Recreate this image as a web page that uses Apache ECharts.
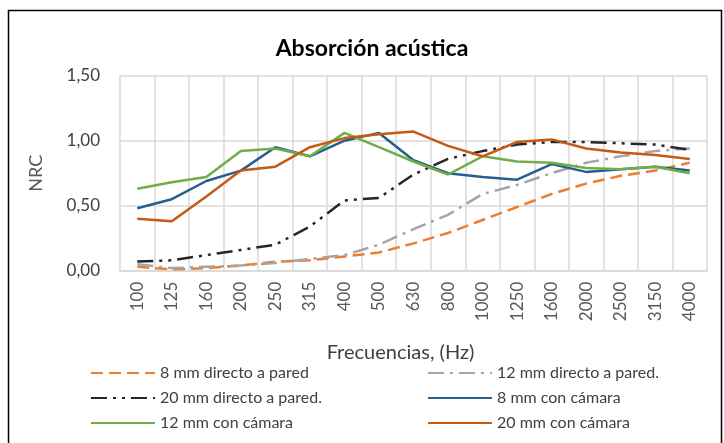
<!DOCTYPE html>
<html><head><meta charset="utf-8">
<script src="https://cdn.jsdelivr.net/npm/echarts@6/dist/echarts.min.js"></script>
<style>html,body{margin:0;padding:0;background:#fff}#c{width:724px;height:443px}</style>
</head><body><div id="c"></div>
<script>
const categories = ['100','125','160','200','250','315','400','500','630','800','1000','1250','1600','2000','2500','3150','4000'];
const yTicks = ['0,00','0,50','1,00','1,50'];
const s8directo  = [0.03,0.01,0.02,0.04,0.07,0.08,0.11,0.14,0.21,0.29,0.39,0.49,0.59,0.67,0.73,0.77,0.83];
const s12directo = [0.05,0.02,0.03,0.04,0.06,0.09,0.12,0.20,0.32,0.43,0.59,0.66,0.75,0.83,0.88,0.92,0.94];
const s20directo = [0.07,0.08,0.12,0.16,0.20,0.34,0.54,0.56,0.74,0.86,0.92,0.97,0.99,0.99,0.98,0.97,0.93];
const s8camara   = [0.48,0.55,0.69,0.77,0.95,0.88,1.00,1.06,0.85,0.75,0.72,0.70,0.82,0.76,0.78,0.80,0.77];
const s12camara  = [0.63,0.68,0.72,0.92,0.94,0.88,1.06,0.95,0.84,0.74,0.88,0.84,0.83,0.79,0.78,0.80,0.75];
const s20camara  = [0.40,0.38,0.57,0.77,0.80,0.95,1.02,1.05,1.07,0.96,0.88,0.99,1.01,0.94,0.91,0.89,0.86];
const names = ['8 mm directo a pared','12 mm directo a pared.','20 mm directo a pared.','8 mm con cámara','12 mm con cámara','20 mm con cámara'];

const font = 'Lato, "Noto Sans", sans-serif';
const chart = echarts.init(document.getElementById('c'));
function ser(name, data, color, type) {
  return {name, type:'line', data, symbol:'none', smooth:false,
    lineStyle:{color, width:2.5, type, cap:'butt'}, itemStyle:{color}};
}
const legendCommon = {orient:'vertical', top:359, itemWidth:64, itemHeight:10, itemGap:7,
  itemStyle:{opacity:0},
  textStyle:{fontFamily:font, fontSize:16, color:'#404040', lineHeight:18}};
chart.setOption({
  animation:false,
  backgroundColor:'#fff',
  title:{text:'Absorción acústica', left:367, textAlign:'center', top:32,
    textStyle:{fontFamily:font, fontSize:23, fontWeight:'bold', color:'#000'}},
  grid:{left:120, right:17, top:75.7, bottom:172.3},
  xAxis:{type:'category', data:categories, boundaryGap:true,
    name:'Frecuencias, (Hz)', nameLocation:'middle', nameGap:72,
    nameTextStyle:{fontFamily:font, fontSize:20, color:'#404040', padding:[0,26,0,0]},
    axisLine:{lineStyle:{color:'#D9D9D9', width:1.5}},
    axisTick:{alignWithLabel:true, length:5, lineStyle:{color:'#D9D9D9', width:1.5}},
    axisLabel:{rotate:90, interval:0, margin:11, fontFamily:font, fontSize:17, color:'#595959'},
    splitLine:{show:true, interval:0, lineStyle:{color:'#D9D9D9', width:1.5}}},
  yAxis:{type:'value', min:0, max:1.5, interval:0.5,
    name:'NRC', nameLocation:'middle', nameGap:75, nameRotate:90,
    nameTextStyle:{fontFamily:font, fontSize:18, color:'#595959'},
    axisLine:{show:false}, axisTick:{show:false},
    axisLabel:{margin:20, fontFamily:font, fontSize:17, color:'#404040',
      formatter:(v)=>yTicks[Math.round(v/0.5)]},
    splitLine:{lineStyle:{color:'#D9D9D9', width:1.5}}},
  legend:[
    Object.assign({data:[names[0],names[2],names[4]], left:85}, legendCommon),
    Object.assign({data:[names[1],names[3],names[5]], left:422}, legendCommon)
  ],
  graphic:[{type:'rect', shape:{x:8.5, y:10.5, width:713, height:450},
    style:{fill:'none', stroke:'#000', lineWidth:1.5}, silent:true}],
  series:[
    ser(names[0], s8directo, '#ED7D31', [12,6]),
    ser(names[1], s12directo, '#A5A5A5', [16,6,3,6]),
    ser(names[2], s20directo, '#262626', [16,6,3,6,3,6]),
    ser(names[3], s8camara, '#255E91', 'solid'),
    ser(names[4], s12camara, '#70AD47', 'solid'),
    ser(names[5], s20camara, '#C55A11', 'solid')
  ]
});
</script></body></html>
